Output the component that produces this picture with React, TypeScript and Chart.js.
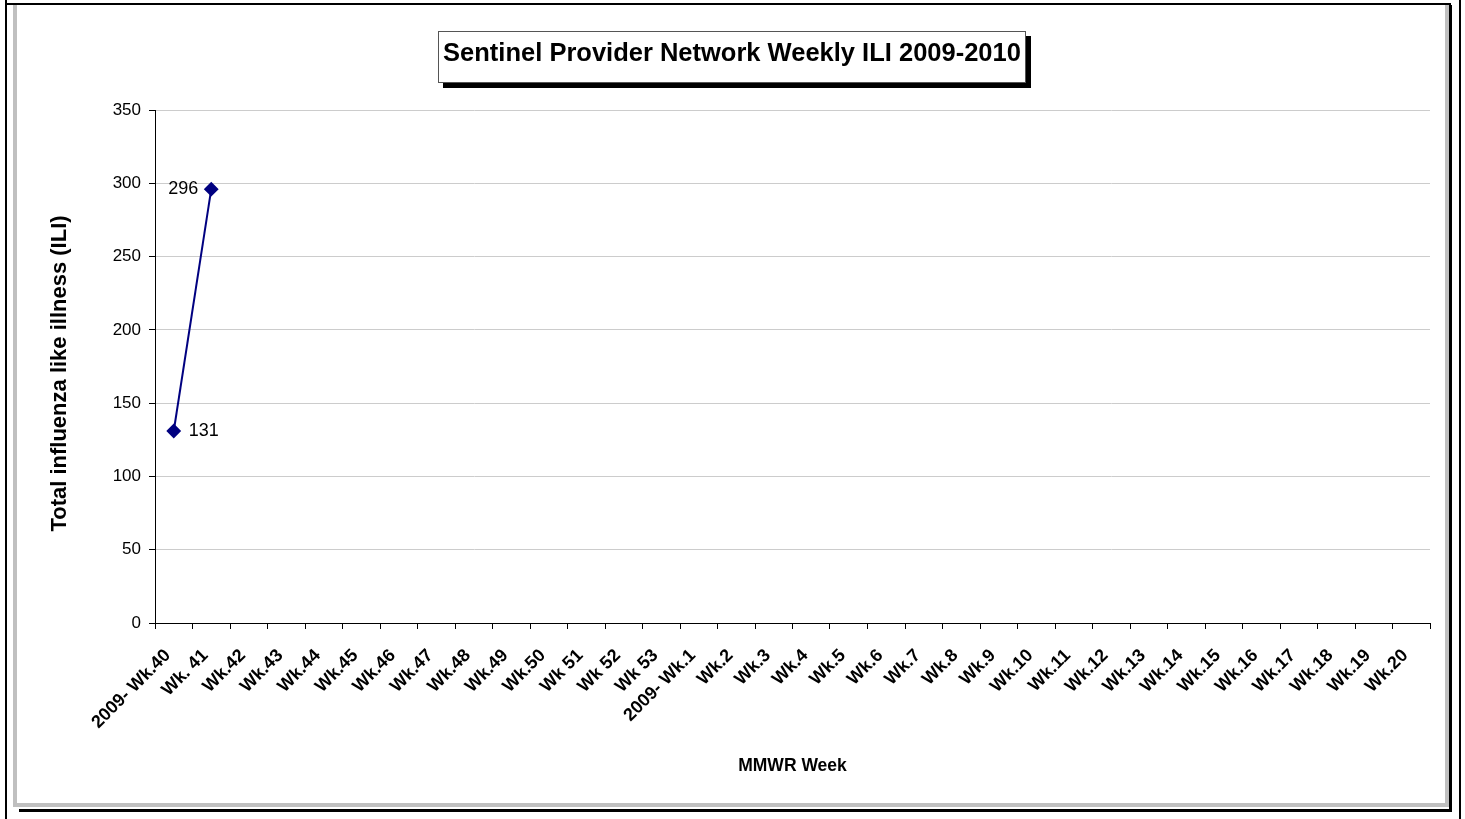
import React, { useEffect, useRef } from "react";
import { Chart, registerables } from "chart.js";

Chart.register(...registerables);

const weeks: string[] = [
  "2009- Wk.40", "Wk. 41", "Wk.42", "Wk.43", "Wk.44", "Wk.45", "Wk.46", "Wk.47",
  "Wk.48", "Wk.49", "Wk.50", "Wk 51", "Wk 52", "Wk 53", "2009- Wk.1", "Wk.2",
  "Wk.3", "Wk.4", "Wk.5", "Wk.6", "Wk.7", "Wk.8", "Wk.9", "Wk.10", "Wk.11",
  "Wk.12", "Wk.13", "Wk.14", "Wk.15", "Wk.16", "Wk.17", "Wk.18", "Wk.19", "Wk.20",
];
const iliTotals: (number | null)[] = [
  131, 296, null, null, null, null, null, null, null, null, null, null, null, null,
  null, null, null, null, null, null, null, null, null, null, null, null, null,
  null, null, null, null, null, null, null,
];
const chartTitle = "Sentinel Provider Network Weekly ILI 2009-2010";
const yTitle = "Total influenza like illness (ILI)";
const xTitle = "MMWR Week";

const FONT = "'Liberation Sans', Arial, sans-serif";

const framePlugin = {
  id: "frame",
  beforeDraw(chart: any) {
    const ctx = chart.ctx;
    ctx.save();
    ctx.fillStyle = "#ffffff";
    ctx.fillRect(0, 0, chart.width, chart.height);
    // outer page lines
    ctx.fillStyle = "#000";
    ctx.fillRect(5, 0, 2, 819);
    ctx.fillRect(1459, 0, 2, 819);
    ctx.fillRect(5, 3, 1446, 2);
    // chart box gray border
    ctx.fillStyle = "#c0c0c0";
    ctx.fillRect(13, 5, 4, 802);
    ctx.fillRect(1445, 5, 4, 802);
    ctx.fillRect(13, 803, 1436, 4);
    // black shadow
    ctx.fillStyle = "#000";
    ctx.fillRect(1449, 5, 3, 807);
    ctx.fillRect(19, 809, 1433, 3);
    ctx.restore();
  },
  afterDraw(chart: any) {
    const ctx = chart.ctx;
    const area = chart.chartArea;
    ctx.save();
    // title box with shadow
    ctx.fillStyle = "#000";
    ctx.fillRect(443, 36, 588, 52);
    ctx.fillStyle = "#fff";
    ctx.fillRect(438, 31, 588, 52);
    ctx.strokeStyle = "#555";
    ctx.lineWidth = 1;
    ctx.strokeRect(438.5, 31.5, 587, 51);
    ctx.fillStyle = "#000";
    ctx.font = `bold 25.5px ${FONT}`;
    ctx.textAlign = "center";
    ctx.textBaseline = "alphabetic";
    ctx.fillText(chartTitle, 732, 61);

    // y axis title
    ctx.save();
    ctx.translate(60, (area.top + area.bottom) / 2 + 7);
    ctx.rotate(-Math.PI / 2);
    ctx.font = `bold 22px ${FONT}`;
    ctx.textAlign = "center";
    ctx.textBaseline = "middle";
    ctx.fillText(yTitle, 0, 0);
    ctx.restore();

    // data labels
    const meta = chart.getDatasetMeta(0);
    ctx.font = `18px ${FONT}`;
    ctx.textBaseline = "middle";
    meta.data.forEach((pt: any, i: number) => {
      const v = iliTotals[i];
      if (v === null || v === undefined) return;
      if (i === 1) {
        ctx.textAlign = "right";
        ctx.fillText(String(v), pt.x - 13, pt.y);
      } else {
        ctx.textAlign = "left";
        ctx.fillText(String(v), pt.x + 15, pt.y);
      }
    });
    ctx.restore();
  },
};

export default function App() {
  const ref = useRef<HTMLCanvasElement | null>(null);
  useEffect(() => {
    if (!ref.current) return;
    const chart = new Chart(ref.current, {
      type: "line",
      data: {
        labels: weeks,
        datasets: [
          {
            data: iliTotals,
            borderColor: "#000080",
            backgroundColor: "#000080",
            borderWidth: 2,
            pointStyle: "rectRot",
            pointRadius: 6,
            pointBackgroundColor: "#000080",
            pointBorderColor: "#000080",
            spanGaps: false,
            tension: 0,
          },
        ],
      },
      options: {
        responsive: false,
        animation: false,
        devicePixelRatio: 1,
        layout: { padding: { left: 0, top: 110, right: 35, bottom: 36 } },
        plugins: {
          legend: { display: false },
          title: { display: false },
          tooltip: { enabled: false },
        },
        scales: {
          x: {
            type: "category",
            offset: true,
            grid: {
              offset: true,
              drawOnChartArea: false,
              drawTicks: true,
              tickLength: 6,
              color: "#000",
              tickColor: "#000",
            },
            border: { color: "#000", width: 1 },
            ticks: {
              autoSkip: false,
              minRotation: 45,
              maxRotation: 45,
              color: "#000",
              padding: 16,
              labelOffset: -6,
              font: { family: FONT, size: 18, weight: "bold" },
            },
            title: {
              display: true,
              text: xTitle,
              color: "#000",
              font: { family: FONT, size: 17.5, weight: "bold" },
              padding: { top: 0, bottom: 6 },
            },
            afterFit(scale: any) {
              scale.height = 160;
            },
          },
          y: {
            min: 0,
            max: 350,
            ticks: {
              stepSize: 50,
              color: "#000",
              padding: 8,
              font: { family: FONT, size: 17 },
            },
            grid: {
              color: "#cccccc",
              tickColor: "#000",
              tickLength: 6,
              drawTicks: true,
            },
            border: { color: "#000", width: 1 },
            title: { display: false },
            afterFit(scale: any) {
              scale.width = 155;
            },
          },
        },
      },
      plugins: [framePlugin],
    });
    return () => chart.destroy();
  }, []);
  return (
    <div style={{ position: "fixed", left: 0, top: 0, width: 1465, height: 819, background: "#fff" }}>
      <canvas ref={ref} width={1465} height={819} style={{ width: 1465, height: 819, display: "block" }} />
    </div>
  );
}
